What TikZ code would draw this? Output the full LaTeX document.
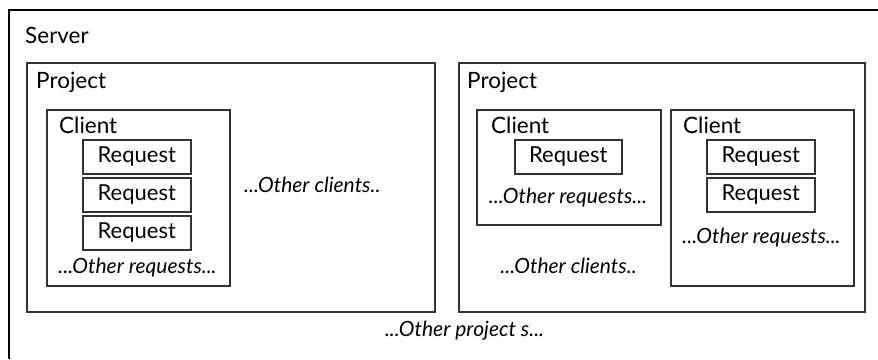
\documentclass[tikz,border=0pt]{standalone}
\usepackage{fontspec}
\setmainfont{Lato}
\usetikzlibrary{positioning}

\begin{document}
\begin{tikzpicture}[x=1pt,y=-1pt,
  box/.style = {draw=black!80, line width=1.6pt, anchor=north west, inner sep=0pt},
  req/.style = {box, minimum width=108pt, minimum height=34pt, font=\fontsize{22}{25}\selectfont},
  lbl/.style = {anchor=base west, inner sep=0pt, font=\fontsize{22.5}{25}\selectfont},
  more/.style = {anchor=base, inner sep=0pt, font=\fontsize{21}{24}\selectfont\itshape},
  node distance={2.4pt}]
\useasboundingbox (0,0) rectangle (878,359);
% server, open at right and bottom
\draw[line width=1.5pt] (878,10) -| (9,359);
\node[lbl] (server) at (25,43) {Server};
% first project
\node[box, minimum width=408pt, minimum height=249pt] (proj1) at (26,62) {};
\node[lbl] (proj1lbl) at (36,88) {Project};
\node[box, minimum width=183pt, minimum height=176pt] (cli1) at (46,109) {};
\node[lbl] (cli1lbl) at (59,133) {Client};
\node[req] (req1) at (82,139) {Request};
\node[req] (req2) [below=of req1] {Request};
\node[req] (req3) [below=of req2] {Request};
\node[more] (cli1more) at (137.5,273) {...Other requests...};
\node[more, anchor=base west] (proj1more) at (244,192) {...Other clients..};
% second project
\node[box, minimum width=406pt, minimum height=249pt] (proj2) at (458,62) {};
\node[lbl] (proj2lbl) at (467,88) {Project};
\node[box, minimum width=184pt, minimum height=115pt] (cli2) at (476,109) {};
\node[lbl] (cli2lbl) at (491,133) {Client};
\node[req, minimum width=107pt] (req4) at (514,139) {Request};
\node[more] (cli2more) at (568,203) {...Other requests...};
\node[box, minimum width=183pt, minimum height=176pt] (cli3) at (670,109) {};
\node[lbl] (cli3lbl) at (683,133) {Client};
\node[req] (req5) at (706,139) {Request};
\node[req] (req6) [below=of req5] {Request};
\node[more] (cli3more) at (761.5,243) {...Other requests...};
\node[more] (proj2more) at (568.5,273) {...Other clients..};
\node[more] (servmore) at (464.5,336) {...Other project s...};
\end{tikzpicture}
\end{document}
